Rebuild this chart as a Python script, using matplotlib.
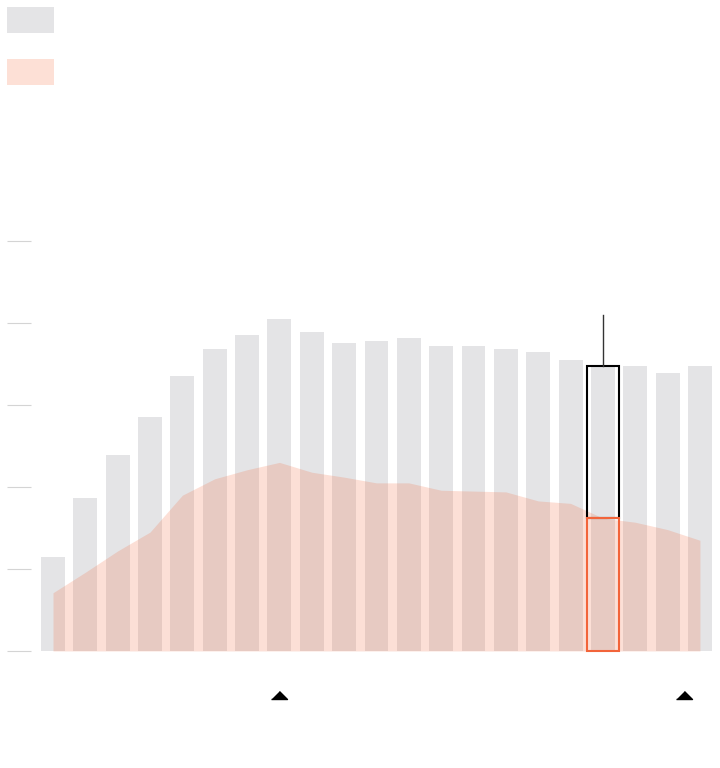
import matplotlib
matplotlib.use("Agg")
import matplotlib.pyplot as plt
from matplotlib.patches import Rectangle
import numpy as np

# values (axis units: ticks every 10)
totals = [11.4, 18.7, 23.9, 28.5, 33.5, 36.8, 38.5, 40.5, 38.9, 37.5, 37.8,
          38.2, 37.2, 37.2, 36.8, 36.5, 35.5, 34.8, 34.8, 33.9, 34.8]
share = [7.1, 9.6, 12.2, 14.5, 19.0, 21.0, 22.1, 23.0, 21.8, 21.2, 20.5,
         20.5, 19.6, 19.5, 19.4, 18.3, 18.0, 16.2, 15.7, 14.8, 13.5]
y_ticks = [0, 10, 20, 30, 40, 50]
highlight = 17          # index of the boxed bar
pointer_top = 41.0      # top of the thin pointer line above the box
marker_pos = [7, 19.5]  # small triangles below the axis

GRAY = "#e4e4e6"
PINK = "#fde0d6"
ORANGE = "#f2643a"

W, H = 720, 768
fig = plt.figure(figsize=(W / 100, H / 100), dpi=100)

# axes placed in pixel terms: left edge at x=31, ticks 0..50 from y=651 up to y=241
ax = fig.add_axes([31 / W, (H - 710) / H, 1 - 31 / W, (710 - 241) / H])
ax.set_xlim(-0.68, 20.62)
ax.set_ylim(-7.2, 50)

x = np.arange(len(totals))
ax.bar(x, totals, width=0.74, color=GRAY, zorder=1)
ax.fill_between(x, 0, share, color="#f26f45", alpha=0.22, lw=0, zorder=2)

# highlighted bar: black box for the remainder, orange box for the share
i = highlight
ax.add_patch(Rectangle((i - 0.5, share[i]), 1.0, totals[i] - share[i],
                       fill=False, ec="black", lw=1.5, zorder=4))
ax.add_patch(Rectangle((i - 0.5, 0), 1.0, share[i],
                       fill=False, ec=ORANGE, lw=1.5, zorder=4, clip_on=False))
ax.plot([i, i], [totals[i], pointer_top], color="#333333", lw=1.0, zorder=4)

tri = [(-2, 0), (2, 0), (0, 2)]
ax.plot(marker_pos, [-5.85] * len(marker_pos), ls="none", marker=tri,
        markersize=11.5, color="black", clip_on=False)

ax.set_yticks(y_ticks)
ax.set_yticklabels([])
ax.set_xticks([])
ax.tick_params(axis="y", length=17.3, width=0.8, color="#d4d4d4", direction="out")
for s in ax.spines.values():
    s.set_visible(False)

# legend swatches (no text in the picture)
for top, col in [(7, GRAY), (59, PINK)]:
    fig.add_artist(Rectangle((7 / W, (H - top - 26) / H), 47 / W, 26 / H,
                             transform=fig.transFigure, color=col, lw=0))

fig.savefig("out.png", dpi=100)
